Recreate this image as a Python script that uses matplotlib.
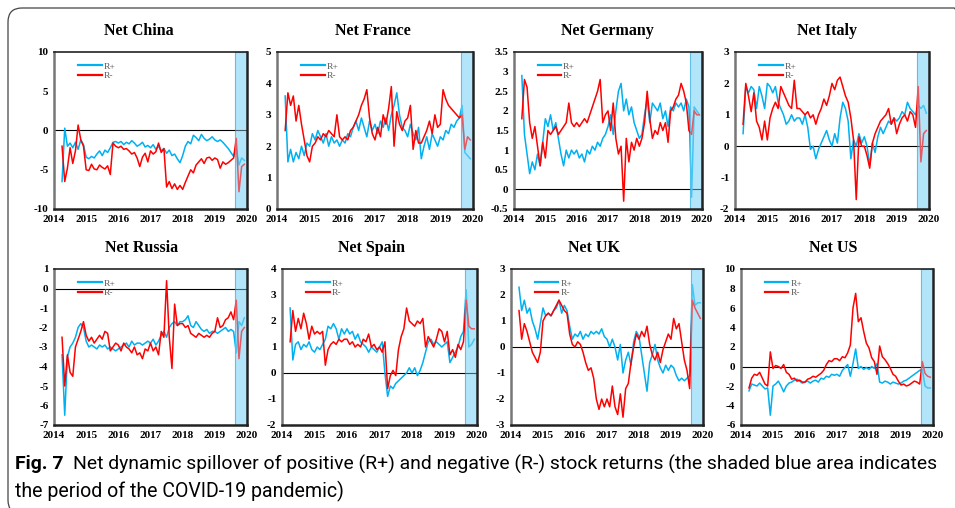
import numpy as np
import pandas as pd
import matplotlib
matplotlib.use("Agg")
import matplotlib.pyplot as plt
from matplotlib.patches import FancyBboxPatch
from matplotlib.lines import Line2D
from matplotlib import font_manager

# ---------------------------------------------------------------------------
# Data (monthly readings, Apr 2014 .. Dec 2019)
# ---------------------------------------------------------------------------
dates = pd.date_range("2014-04-01", "2019-12-01", freq="MS")
years = dates.year + (dates.month - 1) / 12

china_pos = [-6.5, 0.3, -2.0, -1.6, -2.2, -1.5, -2.4, -1.2, -1.8,
             -3.4, -3.6, -3.3, -3.5, -3.0, -2.6, -3.2, -2.5, -2.8, -2.2, -1.5, -1.4,
             -1.6, -1.4, -1.8, -1.5, -1.7, -1.3, -1.6, -2.0, -1.8, -1.5, -2.1, -1.9,
             -2.2, -1.8, -2.4, -2.0, -2.6, -2.3, -2.9, -2.5, -3.2, -3.0, -3.6, -4.1,
             -3.2, -2.0, -1.4, -1.7, -0.6, -0.9, -1.3, -0.5, -1.0, -1.3, -1.1, -0.8,
             -1.2, -1.4, -1.2, -1.5, -1.9, -2.3, -2.8, -3.3, -2.2, -4.4, -3.5, -3.8]
china_neg = [-2.0, -6.5, -4.8, -2.2, -4.2, -2.6, 0.7, -1.2, -2.0,
             -5.0, -5.1, -4.3, -4.9, -5.0, -4.4, -4.7, -4.9, -4.5, -5.6, -1.6, -2.0,
             -2.2, -2.0, -2.4, -2.3, -2.6, -3.0, -2.8, -3.5, -4.6, -3.4, -2.9, -4.0,
             -2.6, -3.0, -2.7, -1.6, -2.8, -2.3, -7.2, -6.5, -7.4, -6.8, -7.5, -7.0,
             -7.5, -6.6, -5.8, -5.0, -5.4, -4.4, -4.0, -3.6, -4.2, -3.5, -3.4, -3.8,
             -3.5, -3.7, -4.8, -4.0, -4.3, -4.1, -3.8, -3.5, -1.0, -7.8, -4.6, -4.3]

france_pos = [3.6, 1.5, 1.9, 1.5, 1.8, 1.6, 2.0, 1.7, 2.1,
              2.0, 2.4, 2.2, 2.5, 2.3, 2.1, 2.4, 2.0, 2.3, 2.1, 2.2, 2.0,
              2.2, 2.1, 2.4, 2.3, 2.6, 2.8, 2.5, 2.9, 2.6, 2.3, 2.8, 2.5,
              2.7, 2.4, 2.8, 2.6, 2.9, 2.5, 3.0, 3.3, 3.7, 3.0, 2.6, 2.5,
              2.3, 2.7, 2.4, 2.2, 2.6, 1.6, 2.0, 2.3, 1.9, 2.4, 2.2, 2.0,
              2.3, 2.2, 2.5, 2.4, 2.7, 2.6, 2.8, 2.9, 3.3, 1.8, 1.7, 1.6]
france_neg = [2.5, 3.7, 3.3, 3.6, 2.8, 3.3, 2.7, 2.2, 1.7,
              1.5, 2.0, 2.1, 2.3, 2.2, 2.4, 2.3, 2.5, 2.4, 2.3, 3.0, 2.3,
              2.2, 2.3, 2.2, 2.5, 2.6, 2.8, 3.0, 3.3, 3.5, 3.8, 2.9, 2.4,
              2.2, 2.6, 2.3, 3.0, 2.7, 3.2, 3.9, 2.0, 3.1, 2.7, 2.5, 2.8,
              2.9, 3.3, 1.9, 2.5, 2.1, 2.1, 2.3, 2.5, 2.8, 2.4, 3.0, 2.6,
              2.7, 3.8, 3.5, 3.3, 3.2, 3.1, 3.0, 2.9, 3.0, 1.9, 2.3, 2.2]

germany_pos = [2.9, 1.4, 0.9, 0.4, 0.7, 0.5, 0.9, 0.6, 1.2,
               1.8, 1.6, 1.9, 1.5, 1.7, 1.3, 0.9, 0.6, 1.0, 0.8, 1.0, 0.9,
               1.0, 0.8, 0.9, 0.7, 1.0, 0.9, 1.1, 1.0, 1.2, 1.1, 1.3, 1.4,
               1.6, 1.9, 1.4, 2.0, 2.5, 2.7, 2.0, 2.3, 1.9, 2.1, 1.7, 1.5,
               1.3, 1.4, 1.9, 2.3, 1.7, 2.2, 2.1, 2.0, 2.2, 1.8, 2.0, 1.6,
               2.1, 2.0, 2.2, 2.1, 2.2, 2.0, 2.3, 2.1, -0.2, 2.1, 2.0, 1.9]
germany_neg = [1.8, 2.8, 2.6, 1.7, 1.3, 1.6, 1.1, 0.6, 1.2,
               0.8, 1.5, 1.4, 1.5, 1.6, 1.4, 1.5, 1.6, 1.7, 2.2, 1.7, 1.6,
               1.7, 1.6, 1.7, 1.8, 1.7, 1.9, 2.1, 2.3, 2.5, 2.8, 1.7, 1.9,
               2.0, 1.5, 2.2, 1.3, 0.9, 1.1, -0.3, 1.3, 0.7, 1.2, 1.0, 1.3,
               1.1, 1.3, 1.7, 2.5, 1.8, 1.3, 1.5, 1.4, 1.7, 1.5, 1.7, 1.2,
               2.0, 2.1, 2.3, 2.4, 2.7, 2.5, 2.2, 1.5, 1.4, 2.0, 1.9, 1.9]

italy_pos = [0.4, 1.9, 1.7, 1.9, 1.8, 1.2, 1.9, 1.6, 1.2,
             2.0, 1.9, 1.7, 1.9, 1.4, 1.2, 1.0, 0.7, 0.8, 1.0, 0.8, 0.9,
             0.9, 0.7, 1.0, 0.6, -0.1, 0.0, -0.4, -0.1, 0.1, 0.3, 0.5, 0.2,
             0.0, 0.4, 0.1, 0.9, 1.4, 1.2, 0.8, -0.4, 0.2, 0.0, 0.4, 0.1,
             0.3, 0.0, -0.6, 0.1, -0.2, 0.3, 0.6, 0.4, 0.6, 0.8, 0.7, 0.9,
             0.8, 0.9, 1.1, 1.0, 1.4, 1.2, 1.1, 1.0, 1.3, 1.2, 1.3, 1.05]
italy_neg = [0.7, 2.0, 1.6, 1.1, 1.7, 0.8, 0.6, 0.2, 0.8,
             0.2, 0.9, 1.2, 1.4, 1.2, 1.9, 1.7, 1.5, 1.3, 1.2, 2.1, 1.2,
             1.2, 1.1, 1.0, 1.1, 0.9, 1.0, 0.7, 1.0, 1.2, 1.5, 1.3, 1.6,
             2.0, 1.8, 2.1, 2.2, 1.9, 1.6, 1.4, 0.9, 0.2, -1.7, 0.3, 0.0,
             0.0, -0.3, -0.7, 0.1, 0.4, 0.6, 0.8, 0.9, 1.0, 1.2, 0.7, 0.9,
             0.4, 0.7, 0.9, 1.0, 0.8, 1.1, 1.0, 0.6, 1.9, -0.5, 0.4, 0.5]

russia_pos = [-3.4, -6.5, -3.5, -3.0, -2.8, -2.5, -2.0, -1.8, -2.0,
              -2.7, -3.0, -2.9, -3.0, -3.1, -2.9, -3.0, -2.9, -3.1, -3.0, -3.1, -3.2,
              -3.1, -3.0, -2.9, -2.8, -3.0, -2.7, -2.9, -2.8, -2.8, -2.9, -2.8, -2.7,
              -2.8, -2.6, -2.9, -2.7, -2.4, -2.2, -2.5, -2.0, -1.8, -1.7, -1.9, -1.7,
              -1.7, -1.6, -1.4, -1.9, -2.0, -1.7, -1.9, -2.1, -2.2, -2.1, -2.3, -2.2,
              -2.2, -2.3, -2.2, -2.1, -2.0, -2.2, -2.1, -2.2, -3.3, -1.7, -1.9, -1.5]
russia_neg = [-2.5, -5.0, -3.4, -4.3, -4.5, -3.0, -2.6, -2.2, -1.7,
              -2.4, -2.7, -2.5, -2.8, -2.6, -2.4, -2.6, -2.2, -2.3, -3.2, -3.0, -2.8,
              -2.9, -3.2, -2.8, -3.0, -3.1, -3.3, -3.0, -3.4, -3.3, -3.6, -3.1, -3.2,
              -2.8, -3.2, -3.0, -3.4, -2.2, -2.5, 0.4, -2.5, -4.1, -0.8, -1.9, -1.8,
              -1.8, -2.0, -1.9, -2.3, -2.4, -2.5, -2.3, -2.4, -2.5, -2.4, -2.5, -2.3,
              -2.2, -1.5, -2.0, -1.9, -1.6, -1.5, -1.2, -1.6, -0.6, -3.6, -2.2, -2.0]

spain_pos = [2.5, 0.5, 1.1, 1.2, 0.9, 1.1, 1.0, 1.2, 0.9,
             0.8, 1.0, 0.9, 1.1, 1.3, 1.8, 1.7, 1.9, 1.7, 1.3, 1.7, 1.5,
             1.7, 1.5, 1.6, 1.3, 1.5, 1.2, 1.1, 1.0, 0.8, 1.0, 0.9, 0.8,
             1.0, 1.2, 0.0, -0.9, -0.5, -0.6, -0.4, -0.3, -0.2, -0.1, 0.0, 0.2,
             0.0, 0.2, -0.1, 0.1, 0.4, 0.8, 1.2, 1.3, 1.1, 1.2, 1.1, 1.0,
             1.1, 1.2, 0.4, 0.6, 0.8, 1.0, 1.4, 1.6, 3.2, 1.0, 1.1, 1.3]
spain_neg = [1.2, 2.4, 1.6, 2.1, 1.7, 2.3, 1.9, 1.3, 1.8,
             1.5, 1.6, 1.5, 1.6, 0.3, 0.9, 1.1, 1.2, 1.1, 1.3, 1.2, 1.3,
             1.3, 1.1, 1.2, 1.0, 1.1, 1.0, 1.3, 1.2, 1.5, 1.0, 1.1, 0.9,
             1.0, 0.8, 1.2, -0.6, -0.1, 0.1, -0.1, 0.9, 1.4, 1.7, 2.5, 2.0,
             1.9, 1.8, 2.0, 1.9, 2.1, 1.0, 1.4, 1.2, 1.0, 1.3, 1.7, 1.6,
             1.2, 1.6, 0.7, 0.9, 0.6, 1.1, 0.9, 1.2, 2.8, 1.8, 1.7, 1.7]

uk_pos = [2.3, 1.4, 1.8, 1.3, 1.5, 1.0, 0.7, 0.3, 0.9,
          1.5, 1.2, 1.3, 1.2, 1.4, 1.5, 1.8, 1.3, 1.6, 1.4, 0.8, 0.3,
          0.5, 0.4, 0.6, 0.3, 0.5, 0.4, 0.6, 0.5, 0.6, 0.5, 0.7, 0.4,
          0.3, 0.0, 0.3, 0.0, -0.5, 0.1, -1.0, -0.5, -0.2, -0.7, 0.2, 0.6,
          0.4, -0.3, -1.0, -1.7, -0.6, -0.3, 0.1, -0.5, -0.8, -1.0, -0.7, -0.9,
          -0.7, -0.8, -1.1, -1.3, -1.2, -1.3, -1.2, -1.1, 2.4, 1.6, 1.7, 1.7]
uk_neg = [1.4, 0.3, 0.9, 0.6, 0.2, -0.2, -0.4, -0.6, -0.2,
          1.0, 1.2, 1.3, 1.2, 1.4, 1.6, 1.8, 1.6, 1.4, 1.3, 0.5, 0.1,
          0.0, 0.2, 0.1, -0.2, -0.6, -0.9, -0.8, -1.2, -2.0, -2.4, -2.0, -2.3,
          -2.0, -2.3, -1.5, -2.3, -2.6, -1.8, -2.7, -1.6, -1.4, -0.6, 0.0, 0.5,
          0.3, 0.6, 0.4, 0.8, 0.1, -0.3, -0.5, -0.2, -0.6, -0.1, 0.2, 0.5,
          0.3, 1.1, 0.7, 0.9, 0.2, -0.5, -0.9, -1.6, 1.8, 1.5, 1.3, 1.1]

us_pos = [-2.5, -1.8, -1.9, -2.0, -1.7, -2.0, -2.3, -2.2, -5.0,
          -2.0, -1.8, -1.5, -2.0, -2.6, -2.0, -1.7, -1.6, -1.4, -1.3, -1.5, -1.7,
          -1.6, -1.5, -1.7, -1.5, -1.4, -1.6, -1.2, -1.3, -1.0, -1.1, -0.8, -0.9,
          -0.8, -1.0, -0.4, -0.1, 0.2, -1.0, 0.3, 1.8, -0.2, 0.0, -0.3, -0.1,
          -0.3, 0.0, -0.2, 0.3, -1.6, -1.7, -1.5, -1.6, -1.8, -1.6, -1.7, -1.8,
          -1.7, -1.5, -1.4, -1.2, -1.0, -0.8, -0.6, -0.4, -0.3, -2.0, -2.2, -2.2]
us_neg = [-2.2, -1.2, -0.8, -0.9, -0.6, -1.2, -1.8, -2.0, 1.5,
          -0.2, 0.1, 0.0, -0.2, 0.2, -0.6, -0.8, -1.3, -1.2, -1.5, -1.4, -1.6,
          -1.6, -1.3, -1.2, -1.0, -1.1, -0.9, -0.7, -0.4, 0.2, 0.6, 0.5, 0.8,
          0.8, 0.6, 1.0, 0.9, 1.4, 2.2, 6.0, 7.5, 4.6, 5.0, 3.6, 2.4,
          1.9, 0.9, 0.5, -0.8, 2.1, 1.0, 0.7, 0.3, -0.2, -0.8, -1.0, -1.5,
          -1.9, -1.8, -2.0, -1.9, -1.7, -1.5, -1.6, -1.8, 0.5, -0.7, -1.0, -1.1]

titles = ["Net China", "Net France", "Net Germany", "Net Italy",
          "Net Russia", "Net Spain", "Net UK", "Net US"]
pos_series = [china_pos, france_pos, germany_pos, italy_pos,
              russia_pos, spain_pos, uk_pos, us_pos]
neg_series = [china_neg, france_neg, germany_neg, italy_neg,
              russia_neg, spain_neg, uk_neg, us_neg]
y_ranges = [(-10, 10, 5), (0, 5, 1), (-0.5, 3.5, 0.5), (-2, 3, 1),
            (-7, 1, 1), (-2, 4, 1), (-3, 3, 1), (-6, 10, 2)]
x_ticks = [2014, 2015, 2016, 2017, 2018, 2019, 2020]
covid_span = (2019.62, 2020.0)

# ---------------------------------------------------------------------------
# Layout (pixel boxes of each plot area in the 955x508 figure)
# ---------------------------------------------------------------------------
W, H = 955, 508
col_px = [(54, 247), (277, 473), (514, 702), (735, 929),
          (54, 247), (282, 477), (511, 703), (741, 933)]
row_px = [(52, 209)] * 4 + [(269, 425)] * 4
title_cx = [139, 373, 607, 827, 142, 371, 594, 833]

BLUE = "#00b0f0"
RED = "#ff0000"
SHADE = "#b3e5fa"
SERIF = "Liberation Serif"

fig = plt.figure(figsize=(W / 100, H / 100), dpi=100)

for i in range(8):
    x0, x1 = col_px[i]
    top, bot = row_px[i]
    ax = fig.add_axes([x0 / W, 1 - bot / H, (x1 - x0) / W, (bot - top) / H])
    lo, hi, step = y_ranges[i]

    ax.axvspan(*covid_span, facecolor=SHADE, edgecolor="#2aa8dd",
               lw=0.8, zorder=1)
    ax.axhline(0, color="black", lw=0.8, zorder=2)
    ax.plot(years, pos_series[i], color=BLUE, lw=1.1, zorder=3)
    ax.plot(years, neg_series[i], color=RED, lw=1.1, zorder=4)
    # translucent overlay tints the lines inside the shaded COVID window
    ax.axvspan(*covid_span, facecolor=SHADE, alpha=0.4, lw=0, zorder=5)

    ax.set_xlim(2014, 2020)
    ax.set_ylim(lo, hi)
    ax.set_xticks(x_ticks)
    ax.set_xticklabels([str(t) for t in x_ticks])
    yt = np.arange(lo, hi + step / 2, step)
    ax.set_yticks(yt)
    ax.set_yticklabels([f"{v:g}" for v in yt])
    ax.tick_params(length=0, labelsize=8, pad=4)
    for lab in ax.get_xticklabels() + ax.get_yticklabels():
        lab.set_family(SERIF)
        lab.set_fontweight("bold")
    for side, sp in ax.spines.items():
        sp.set_color("#222222" if side != "left" else "#777777")
        sp.set_linewidth(1.8 if side in ("bottom", "right", "left") else 1.2)
        sp.set_zorder(6)

    handles = [Line2D([], [], color=BLUE, lw=1.6), Line2D([], [], color=RED, lw=1.6)]
    leg = ax.legend(handles, ["R+", "R-"], loc="upper left",
                    bbox_to_anchor=(0.08, 0.99), frameon=False,
                    handlelength=2.5, handletextpad=0.2, labelspacing=0.1,
                    prop={"family": SERIF, "size": 6.8})
    for t in leg.get_texts():
        t.set_color("#555555")

    fig.text(title_cx[i] / W, 1 - (top - 21) / H, titles[i], ha="center",
             va="center", fontsize=11.5, fontweight="bold", family=SERIF)

# ---------------------------------------------------------------------------
# Frame and caption
# ---------------------------------------------------------------------------
frame = FancyBboxPatch((0.08, -0.06), 9.6, 5.08 - 0.08 + 0.06,
                       boxstyle="round,pad=0,rounding_size=0.14",
                       transform=fig.dpi_scale_trans, fill=False,
                       edgecolor="#444444", lw=0.9)
fig.add_artist(frame)

names = {f.name for f in font_manager.fontManager.ttflist}
cap_font = next((f for f in ["Liberation Sans Narrow", "Roboto", "Open Sans"]
                 if f in names), "DejaVu Sans")

fig.canvas.draw()
renderer = fig.canvas.get_renderer()

line1 = ("Net dynamic spillover of positive (R+) and negative (R-) stock returns "
         "(the shaded blue area indicates")
fig_lbl = fig.text(15 / W, 1 - 464 / H, "Fig. 7", ha="left", va="center",
                   fontsize=12, fontweight="bold", family=cap_font)
rest = fig.text(0, 1 - 464 / H, line1, ha="left", va="center",
                fontsize=12, family=cap_font)
size = 12.0
for _ in range(3):
    fig_lbl.set_fontsize(size)
    rest.set_fontsize(size)
    bb = fig_lbl.get_window_extent(renderer)
    start = bb.x1 + 0.7 * size
    rest.set_x(start / W)
    w = rest.get_window_extent(renderer).width
    size = size * (942 - start) / w
fig.text(15 / W, 1 - 491 / H, "the period of the COVID-19 pandemic)", ha="left",
         va="center", fontsize=size, family=cap_font)

fig.savefig("out.png", dpi=100)
